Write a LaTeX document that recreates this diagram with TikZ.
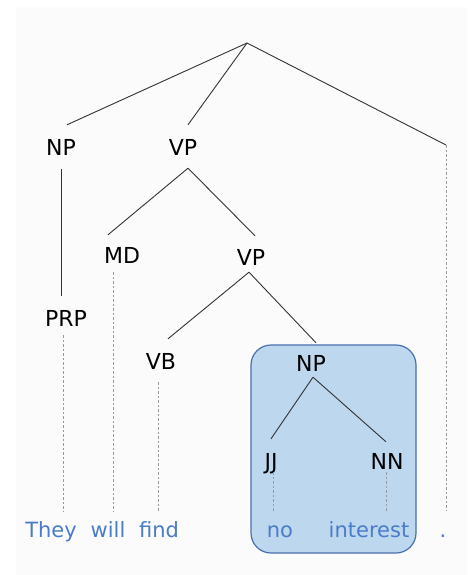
\documentclass[tikz,border=0pt]{standalone}
\usepackage{fontspec}
\setmainfont{DejaVu Sans}
\definecolor{wordblue}{HTML}{4A7CCB}
\definecolor{treegray}{HTML}{333333}
\definecolor{dashgray}{HTML}{9A9A9A}
\definecolor{boxfill}{HTML}{BDD7EE}
\definecolor{boxedge}{HTML}{4A6FAE}
\definecolor{bgfaint}{HTML}{FBFBFB}
\begin{document}
\begin{tikzpicture}[x=1pt,y=-1pt,
  tag/.style={font=\fontsize{22}{22}\selectfont, inner sep=0pt, text height=16pt, text depth=0pt, minimum height=44pt},
  word/.style={font=\fontsize{21}{21}\selectfont, text=wordblue, inner sep=0pt, text height=16pt, text depth=5pt, outer ysep=10pt, anchor=base},
  branch/.style={draw=treegray, line width=0.9pt},
  leaf/.style={draw=dashgray, line width=0.8pt, dash pattern=on 2.5pt off 2pt},
  hlbox/.style={draw=boxedge, fill=boxfill, rounded corners=20pt, line width=1.2pt, inner sep=0pt}]
\useasboundingbox (0,0) rectangle (467,575);
\fill[bgfaint] (16,7) rectangle (467,575);
% highlight box
\node[hlbox, minimum width=165pt, minimum height=208pt] (hl) at (333.5,449) {};
% nodes
\coordinate (root) at (247,43);
\coordinate (punct) at (446,145);
\node[tag] (np) at (61,147) {NP};
\node[tag] (vp) at (183,147) {VP};
\node[tag] (prp) at (66,318) {PRP};
\node[tag] (md) at (122,255) {MD};
\node[tag] (vp2) at (251,257) {VP};
\node[tag] (vb) at (161,361) {VB};
\node[tag] (npb) at (311,363) {NP};
\node[tag] (jj) at (271,461) {JJ};
\node[tag] (nn) at (387,461) {NN};
% words
\node[word] (they) at (51,537) {They};
\node[word] (will) at (108,537) {will};
\node[word] (find) at (159,537) {find};
\node[word] (no) at (280,537) {no};
\node[word] (interest) at (369,537) {interest};
\node[word] (dot) at (443,537) {.};
% branches
\draw[branch] (root) -- ([xshift=6pt]np.north);
\draw[branch] (root) -- ([xshift=5pt]vp.north);
\draw[branch] (root) -- (punct);
\draw[branch] (np.south) -- (prp.north -| np.south);
\draw[branch] ([xshift=5pt,yshift=1pt]vp.south) -- ([xshift=-14pt,yshift=-2pt]md.north);
\draw[branch] ([xshift=5pt,yshift=1pt]vp.south) -- ([xshift=4pt,yshift=-1pt]vp2.north);
\draw[branch] ([xshift=-2pt,yshift=7pt]vp2.south) -- ([xshift=7pt]vb.north);
\draw[branch] ([xshift=-2pt,yshift=7pt]vp2.south) -- ([xshift=5pt,yshift=-2pt]npb.north);
\draw[branch] ([xshift=2pt,yshift=8pt]npb.south) -- (jj.north);
\draw[branch] ([xshift=2pt,yshift=8pt]npb.south) -- ([xshift=-1pt,yshift=-3pt]nn.north);
% leaf dashes
\draw[leaf] ([xshift=-3pt,yshift=5pt]prp.south) -- ([xshift=-3pt]prp.south |- they.north);
\draw[leaf] ([xshift=-9pt,yshift=5pt]md.south) -- ([xshift=-9pt]md.south |- will.north);
\draw[leaf] ([xshift=-3pt,yshift=1pt]vb.south) -- ([xshift=-3pt]vb.south |- find.north);
\draw[leaf] ([xshift=2pt,yshift=11pt]jj.south) -- ([xshift=2pt]jj.south |- no.north);
\draw[leaf] ([xshift=-1pt,yshift=11pt]nn.south) -- ([xshift=-1pt]nn.south |- interest.north);
\draw[leaf] (punct) -- (punct |- dot.north);
\end{tikzpicture}
\end{document}
